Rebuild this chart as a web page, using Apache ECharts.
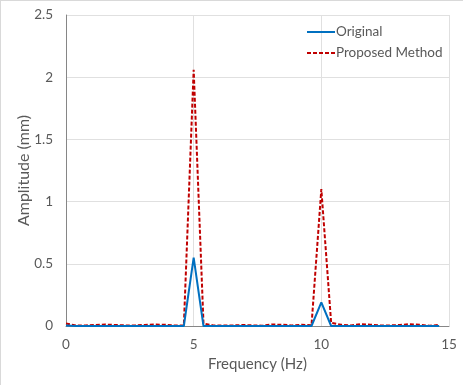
<!DOCTYPE html>
<html>
<head>
<meta charset="utf-8">
<script src="https://cdn.jsdelivr.net/npm/echarts@6/dist/echarts.min.js"></script>
<style>
  html, body { margin: 0; padding: 0; background: #fff; }
  #chart { width: 463px; height: 385px; box-sizing: border-box; border-left: 1px solid #d9d9d9; border-top: 1px solid #d9d9d9; }
</style>
</head>
<body>
<div id="chart"></div>
<script>
// frequency step: 5/13 Hz, 39 samples
const freqStep = 5 / 13;
const original = [0.005, 0, 0, 0, 0, 0, 0, 0, 0, 0, 0, 0, 0, 0.55, 0, 0, 0, 0, 0, 0,
  0, 0, 0, 0, 0, 0, 0.19, 0, 0, 0, 0, 0, 0, 0, 0, 0, 0, 0, 0];
const proposed = [0.02, 0.005, 0.005, 0.008, 0.012, 0.008, 0.005, 0.005, 0.008, 0.012,
  0.01, 0.005, 0.005, 2.06, 0.02, 0.005, 0.005, 0.005, 0.008, 0.005,
  0.003, 0.012, 0.01, 0.005, 0.01, 0.005, 1.1, 0.025, 0.01, 0.005,
  0.015, 0.01, 0.005, 0.005, 0.008, 0.015, 0.01, 0.002, 0.008];
const xTicks = [0, 5, 10, 15];
const yTicks = [0, 0.5, 1, 1.5, 2, 2.5];

const toPairs = vals => vals.map((v, i) => [i * freqStep, v]);

const chart = echarts.init(document.getElementById('chart'));
const font = 'Lato, "Open Sans", sans-serif';

// legend line samples
const solidIcon = 'path://M0,4 L28,4 L28,6 L0,6 Z';
const dashedIcon = 'path://M0,4 L4,4 L4,6 L0,6 Z M6,4 L10,4 L10,6 L6,6 Z M12,4 L16,4 L16,6 L12,6 Z M18,4 L22,4 L22,6 L18,6 Z M24,4 L28,4 L28,6 L24,6 Z';

chart.setOption({
  animation: false,
  grid: { left: 65, right: 14, top: 14, bottom: 59 },
  legend: {
    orient: 'vertical',
    left: 306,
    top: 24,
    padding: 0,
    itemWidth: 28,
    itemHeight: 10,
    itemGap: 7,
    textStyle: { fontFamily: font, fontSize: 13.5, color: '#595959', padding: [0, 0, 0, -4] },
    data: [
      { name: 'Original', icon: solidIcon, itemStyle: { color: '#0070C0' } },
      { name: 'Proposed Method', icon: dashedIcon, itemStyle: { color: '#C00000' } }
    ]
  },
  xAxis: {
    type: 'value',
    min: xTicks[0],
    max: xTicks[xTicks.length - 1],
    interval: 5,
    name: 'Frequency (Hz)',
    nameLocation: 'middle',
    nameGap: 31,
    nameMoveOverlap: false,
    nameTextStyle: { fontFamily: font, fontSize: 15, color: '#595959' },
    axisLine: { show: true, lineStyle: { color: '#868686', width: 1 } },
    axisTick: { show: false },
    axisLabel: { fontFamily: font, fontSize: 13.5, color: '#595959', margin: 12 },
    splitLine: { show: true, lineStyle: { color: '#e0e0e0', width: 1 } }
  },
  yAxis: {
    type: 'value',
    min: yTicks[0],
    max: yTicks[yTicks.length - 1],
    interval: 0.5,
    name: 'Amplitude (mm)',
    nameLocation: 'middle',
    nameGap: 34,
    nameMoveOverlap: false,
    nameRotate: 90,
    nameTextStyle: { fontFamily: font, fontSize: 16, color: '#595959' },
    axisLine: { show: true, lineStyle: { color: '#868686', width: 1 } },
    axisTick: { show: false },
    axisLabel: { fontFamily: font, fontSize: 13.5, color: '#595959', margin: 13 },
    splitLine: { show: true, lineStyle: { color: '#e0e0e0', width: 1 } }
  },
  series: [
    {
      name: 'Original',
      type: 'line',
      data: toPairs(original),
      symbol: 'none',
      lineStyle: { color: '#0070C0', width: 2 },
      itemStyle: { color: '#0070C0' },
      z: 3
    },
    {
      name: 'Proposed Method',
      type: 'line',
      data: toPairs(proposed),
      symbol: 'none',
      lineStyle: { color: '#C00000', width: 2, type: [4, 2] },
      itemStyle: { color: '#C00000' },
      z: 2
    }
  ]
});
</script>
</body>
</html>
